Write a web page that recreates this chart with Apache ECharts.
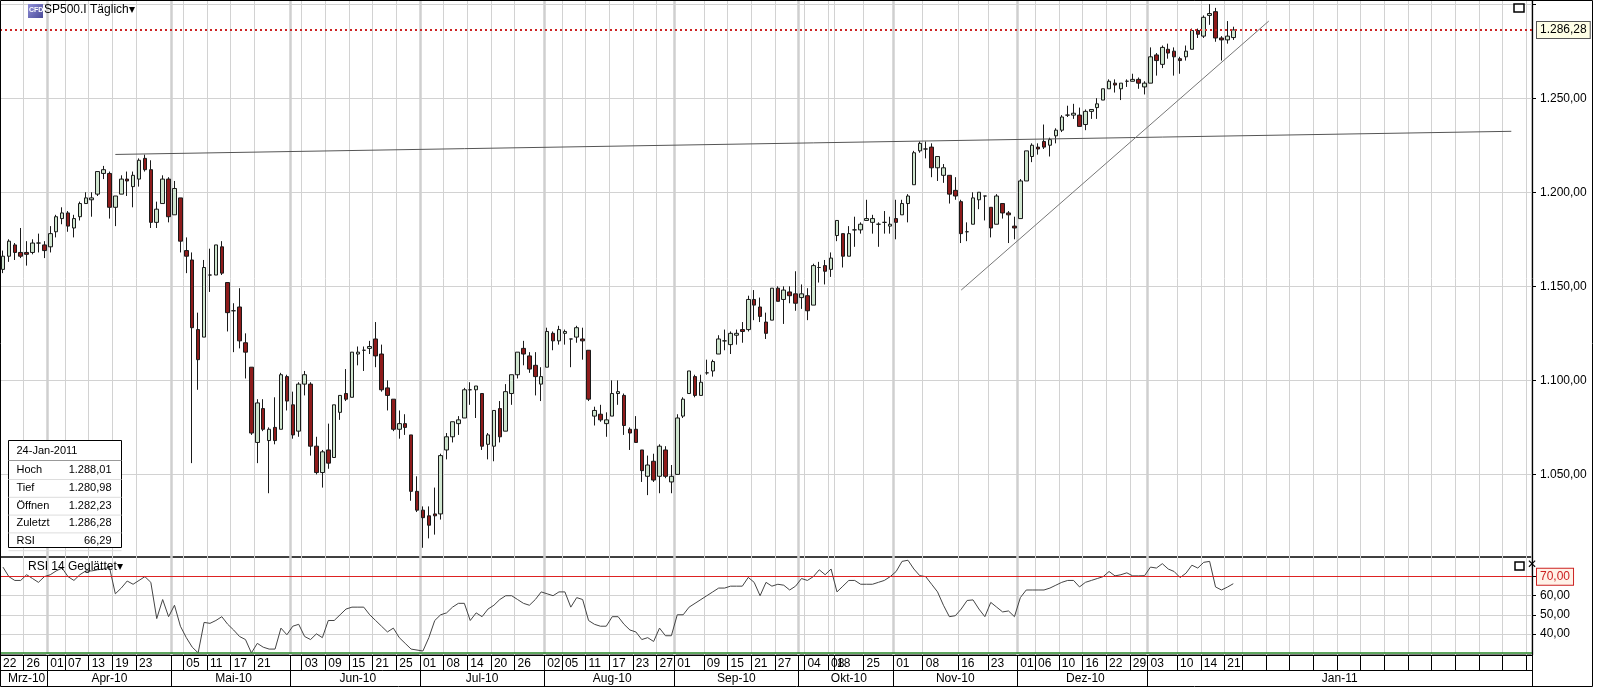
<!DOCTYPE html>
<html><head><meta charset="utf-8">
<script src="https://cdn.jsdelivr.net/npm/echarts@6/dist/echarts.min.js"></script>
<style>html,body{margin:0;padding:0;background:#fff;overflow:hidden}#c{width:1598px;height:687px}</style>
</head><body><div id="c"></div>
<script>
const title = 'SP500.I Täglich';
const rsiTitle = 'RSI 14 Geglättet';
const dates = [
'2010-03-22','2010-03-23','2010-03-24','2010-03-25','2010-03-26','2010-03-29','2010-03-30','2010-03-31',
'2010-04-01','2010-04-05','2010-04-06','2010-04-07','2010-04-08','2010-04-09','2010-04-12','2010-04-13','2010-04-14','2010-04-15','2010-04-16','2010-04-19','2010-04-20','2010-04-21','2010-04-22','2010-04-23','2010-04-26','2010-04-27','2010-04-28','2010-04-29','2010-04-30',
'2010-05-03','2010-05-04','2010-05-05','2010-05-06','2010-05-07','2010-05-10','2010-05-11','2010-05-12','2010-05-13','2010-05-14','2010-05-17','2010-05-18','2010-05-19','2010-05-20','2010-05-21','2010-05-24','2010-05-25','2010-05-26','2010-05-27','2010-05-28',
'2010-06-01','2010-06-02','2010-06-03','2010-06-04','2010-06-07','2010-06-08','2010-06-09','2010-06-10','2010-06-11','2010-06-14','2010-06-15','2010-06-16','2010-06-17','2010-06-18','2010-06-21','2010-06-22','2010-06-23','2010-06-24','2010-06-25','2010-06-28','2010-06-29','2010-06-30',
'2010-07-01','2010-07-02','2010-07-06','2010-07-07','2010-07-08','2010-07-09','2010-07-12','2010-07-13','2010-07-14','2010-07-15','2010-07-16','2010-07-19','2010-07-20','2010-07-21','2010-07-22','2010-07-23','2010-07-26','2010-07-27','2010-07-28','2010-07-29','2010-07-30',
'2010-08-02','2010-08-03','2010-08-04','2010-08-05','2010-08-06','2010-08-09','2010-08-10','2010-08-11','2010-08-12','2010-08-13','2010-08-16','2010-08-17','2010-08-18','2010-08-19','2010-08-20','2010-08-23','2010-08-24','2010-08-25','2010-08-26','2010-08-27','2010-08-30','2010-08-31',
'2010-09-01','2010-09-02','2010-09-03','2010-09-07','2010-09-08','2010-09-09','2010-09-10','2010-09-13','2010-09-14','2010-09-15','2010-09-16','2010-09-17','2010-09-20','2010-09-21','2010-09-22','2010-09-23','2010-09-24','2010-09-27','2010-09-28','2010-09-29','2010-09-30',
'2010-10-01','2010-10-04','2010-10-05','2010-10-06','2010-10-07','2010-10-08','2010-10-18','2010-10-19','2010-10-20','2010-10-21','2010-10-22','2010-10-25','2010-10-26','2010-10-27','2010-10-28','2010-10-29',
'2010-11-01','2010-11-02','2010-11-03','2010-11-04','2010-11-05','2010-11-08','2010-11-09','2010-11-10','2010-11-11','2010-11-12','2010-11-15','2010-11-16','2010-11-17','2010-11-18','2010-11-19','2010-11-22','2010-11-23','2010-11-24','2010-11-26','2010-11-29','2010-11-30',
'2010-12-01','2010-12-02','2010-12-03','2010-12-06','2010-12-07','2010-12-08','2010-12-09','2010-12-10','2010-12-13','2010-12-14','2010-12-15','2010-12-16','2010-12-17','2010-12-20','2010-12-21','2010-12-22','2010-12-23','2010-12-27','2010-12-28','2010-12-29','2010-12-30','2010-12-31',
'2011-01-03','2011-01-04','2011-01-05','2011-01-06','2011-01-07','2011-01-10','2011-01-11','2011-01-12','2011-01-13','2011-01-14','2011-01-18','2011-01-19','2011-01-20','2011-01-21','2011-01-24'];
const opens = [1159,1166,1172,1168,1168,1168,1173,1172,
1171,1179,1186,1189,1181,1187,1194,1196,1199,1210,1210,1192,1199,1207,1203,1207,1218,1212,1184,1194,1207,
1188,1197,1169,1164,1127,1123,1156,1156,1171,1152,1137,1139,1120,1107,1067,1085,1068,1075,1074,1102,
1087,1073,1098,1098,1065,1051,1063,1059,1083,1093,1091,1114,1116,1117,1122,1114,1096,1090,1074,1077,1071,1041,
1031,1028,1029,1029,1063,1070,1077,1080,1095,1095,1093,1066,1065,1085,1073,1093,1103,1117,1113,1108,1098,
1107,1125,1121,1125,1122,1123,1122,1116,1081,1082,1077,1081,1093,1092,1074,1074,1063,1049,1057,1049,1063,1046,
1050,1081,1093,1102,1092,1104,1105,1114,1121,1119,1124,1127,1127,1143,1139,1131,1132,1149,1143,1147,1146,
1144,1145,1140,1160,1161,1159,1177,1178,1166,1180,1180,1185,1184,1183,1184,1182,
1186,1188,1194,1204,1222,1223,1224,1213,1209,1209,1201,1195,1179,1183,1196,1198,1192,1183,1194,1189,1182,
1186,1206,1219,1224,1227,1225,1230,1233,1241,1241,1241,1236,1243,1245,1249,1255,1258,1255,1259,1259,1260,1256,
1258,1273,1268,1276,1275,1271,1272,1276,1286,1283,1294,1296,1282,1281,1282.23];
const highs = [1169,1175,1173,1181,1174,1175,1178,1174,
1182,1188,1192,1190,1188,1195,1200,1200,1211,1214,1211,1198,1209,1211,1211,1218,1220,1217,1195,1209,1208,
1206,1197,1176,1168,1136,1164,1170,1172,1174,1152,1141,1149,1125,1107,1090,1090,1075,1091,1104,1103,
1094,1099,1105,1099,1070,1063,1077,1087,1092,1106,1115,1118,1118,1121,1131,1119,1100,1090,1084,1082,1071,1049,
1033,1033,1043,1061,1072,1078,1081,1096,1099,1097,1093,1072,1084,1089,1098,1103,1115,1121,1115,1115,1107,
1128,1126,1129,1127,1122,1129,1128,1116,1086,1087,1083,1100,1100,1093,1075,1081,1063,1060,1061,1066,1065,1055,
1082,1091,1105,1103,1103,1111,1111,1124,1127,1126,1127,1131,1145,1148,1144,1136,1149,1150,1150,1150,1158,
1151,1149,1162,1163,1164,1168,1185,1178,1182,1187,1184,1196,1188,1184,1190,1187,
1196,1196,1199,1222,1227,1227,1226,1219,1215,1209,1208,1196,1184,1200,1200,1198,1192,1199,1194,1190,1187,
1207,1222,1226,1226,1236,1229,1234,1241,1246,1247,1245,1244,1244,1250,1255,1260,1260,1258,1260,1263,1261,1259,
1277,1274,1278,1279,1277,1272,1278,1287,1287,1294,1300,1298,1283,1291,1288.01];
const lows = [1157,1163,1164,1165,1161,1167,1168,1165,
1168,1176,1183,1179,1176,1185,1194,1187,1198,1207,1186,1182,1199,1198,1192,1203,1211,1181,1181,1194,1184,
1188,1168,1157,1056,1095,1123,1147,1156,1156,1126,1115,1117,1101,1071,1056,1073,1040,1066,1074,1084,
1069,1070,1092,1060,1050,1043,1053,1059,1079,1089,1091,1108,1105,1114,1107,1094,1084,1073,1069,1071,1036,1030,
1011,1016,1018,1026,1058,1067,1071,1080,1087,1080,1063,1058,1057,1067,1073,1087,1101,1108,1104,1092,1089,
1107,1116,1119,1119,1107,1120,1111,1089,1076,1078,1070,1081,1087,1071,1063,1067,1046,1039,1046,1040,1048,1040,
1050,1080,1093,1091,1092,1103,1102,1114,1116,1114,1119,1120,1126,1132,1131,1122,1132,1142,1130,1141,1137,
1138,1132,1140,1152,1151,1155,1174,1160,1166,1171,1178,1185,1178,1171,1178,1178,
1175,1188,1184,1204,1221,1218,1208,1206,1205,1194,1196,1173,1174,1183,1191,1185,1176,1183,1186,1173,1175,
1186,1206,1216,1220,1223,1219,1226,1232,1240,1239,1235,1233,1239,1239,1249,1255,1253,1249,1256,1259,1255,1252,
1258,1262,1266,1271,1262,1263,1270,1276,1282,1282,1289,1280,1270,1279,1280.98];
const closes = [1166,1174,1168,1166,1167,1173,1173,1169,
1178,1187,1189,1182,1186,1194,1197,1197,1211,1212,1192,1198,1207,1206,1209,1217,1212,1184,1191,1207,1187,
1202,1174,1166,1128,1111,1160,1156,1172,1157,1136,1137,1121,1115,1072,1088,1074,1074,1068,1103,1089,
1071,1098,1103,1065,1051,1062,1056,1087,1092,1090,1115,1115,1116,1118,1113,1095,1092,1074,1077,1075,1041,1031,
1027,1023,1028,1060,1070,1078,1079,1095,1095,1097,1065,1071,1084,1070,1094,1103,1115,1114,1106,1102,1102,
1126,1121,1127,1126,1122,1128,1121,1090,1084,1079,1079,1093,1094,1076,1072,1067,1052,1055,1047,1065,1049,1049,
1080,1090,1105,1092,1099,1104,1110,1122,1121,1125,1125,1126,1143,1140,1134,1125,1149,1142,1148,1145,1141,
1146,1137,1161,1160,1158,1165,1185,1166,1178,1180,1183,1186,1186,1183,1184,1183,
1184,1194,1198,1221,1226,1223,1213,1219,1213,1199,1198,1178,1179,1197,1200,1198,1181,1198,1189,1188,1181,
1206,1222,1225,1223,1224,1228,1233,1240,1241,1242,1235,1243,1244,1247,1255,1259,1257,1258,1259,1260,1258,1258,
1272,1270,1277,1274,1272,1270,1275,1286,1284,1293,1295,1282,1281,1283,1286.28];
const rsi = [75,70,68,68,71,69,67,70,
71,73,74.5,70,68,71,73,73,73.6,74,75,61,64,67.7,66,68,70,67,48,58,49,
55,44,38,33,30,46,45.5,47,49,45,42,38.6,37,30,35,33,32,32,43,39.5,
44,45,38.6,37,40,38,47,47,50,53,54,54,54,50,47,44,41,43,38,35,32,31.5,
31,38,47,50,51,54,56,56,47,51,49,53,55,58,60,60,58,56,55,58,62,
61,60,62,62,54,59,58,47,45,44,44,49,49,45,42,41,37,38,36,43,39,39,
50,50,54,56,58,60,62,64,64,65,65,65,69.6,67,60,67,65,66,65.5,63,65,
69,68,70,73.6,71,74,62,65,68,68,66,66,66,67,68,70,
72.7,78,78.6,74,70.5,70,66,62,55,49,49.5,53,57.5,57.8,53,49,56.5,54,51.5,52,49,
59,63,63,63,63,64,65.5,67,68,68,64.6,67,68,69,70,72.7,70.4,71,72,70.4,70.4,70.5,
75,74.5,76.8,74,72.7,69.5,71.8,76,74.5,77.5,78,64.6,63,64.5,66.29];
const labelDays = ['2010-03-22','2010-03-26','2010-04-01','2010-04-07','2010-04-13','2010-04-19','2010-04-23',
'2010-05-05','2010-05-11','2010-05-17','2010-05-21','2010-06-03','2010-06-09','2010-06-15','2010-06-21','2010-06-25',
'2010-07-01','2010-07-08','2010-07-14','2010-07-20','2010-07-26','2010-08-02','2010-08-05','2010-08-11','2010-08-17','2010-08-23','2010-08-27',
'2010-09-01','2010-09-09','2010-09-15','2010-09-21','2010-09-27','2010-10-04','2010-10-08','2010-10-18','2010-10-25',
'2010-11-01','2010-11-08','2010-11-16','2010-11-23','2010-12-01','2010-12-06','2010-12-10','2010-12-16','2010-12-22','2010-12-29',
'2011-01-03','2011-01-10','2011-01-14','2011-01-21'];
const monthNames = ['Jan','Feb','Mrz','Apr','Mai','Jun','Jul','Aug','Sep','Okt','Nov','Dez'];
const futureSlots = 50;
const rsiUpper = 70, rsiLower = 30;
const resistLine = [[19, 1220.1], [255, 1232.4]];
const supportLine = [[162, 1148], [214, 1291]];

const cats = dates.concat(Array.from({length: futureSlots}, (_, i) => 'F' + (i + 1)));
const N = dates.length;
const monthStarts = [];
dates.forEach((d, i) => { if (i === 0 || d.slice(0, 7) !== dates[i - 1].slice(0, 7)) monthStarts.push(i); });
const monthStartSet = new Set(monthStarts.filter(i => i > 0));
const monthMid = {};
monthStarts.forEach((s, k) => {
  const e = k + 1 < monthStarts.length ? monthStarts[k + 1] : cats.length;
  const d = dates[s];
  monthMid[Math.floor((s + e) / 2)] = monthNames[+d.slice(5, 7) - 1] + '-' + d.slice(2, 4);
});
const labelSet = new Set(labelDays.map(d => dates.indexOf(d)));
const tickSet = new Set([...labelSet, ...monthStartSet]);
for (let k = N + 1; k < cats.length; k += 4) tickSet.add(k);
const fmt = v => { const s = v.toFixed(2).split('.'); s[0] = s[0].replace(/\B(?=(\d{3})+(?!\d))/g, '.'); return s.join(','); };
const candles = dates.map((d, i) => [opens[i], closes[i], lows[i], highs[i]]);
const last = N - 1;
const FONT = 'Liberation Sans';
const tickFn = i => tickSet.has(i);
const monthFn = i => monthStartSet.has(i);

const gridLine = {color: '#d2d2d2', width: 1};
const monthLine = {color: '#cfcfcf', width: 2.5};
const chart = echarts.init(document.getElementById('c'));
chart.setOption({
  animation: false,
  textStyle: {fontFamily: FONT},
  grid: [
    {left: 0, right: 66, top: 0, height: 557, show: true, borderColor: '#000', borderWidth: 1, outerBoundsMode: 'none'},
    {left: 0, right: 66, top: 557, height: 98, show: true, borderColor: '#000', borderWidth: 1, outerBoundsMode: 'none'}
  ],
  xAxis: [
    {type: 'category', gridIndex: 0, data: cats, axisLine: {show: false}, axisTick: {show: false}, axisLabel: {show: false},
     splitLine: {show: true, interval: tickFn, lineStyle: gridLine}},
    {type: 'category', gridIndex: 0, data: cats, axisLine: {show: false}, axisTick: {show: false}, axisLabel: {show: false},
     splitLine: {show: true, interval: monthFn, lineStyle: monthLine}},
    {type: 'category', gridIndex: 1, data: cats, position: 'bottom', axisLine: {lineStyle: {color: '#000'}},
     axisTick: {show: true, interval: tickFn, length: 15, lineStyle: {color: '#000'}},
     axisLabel: {interval: i => labelSet.has(i), formatter: v => v.slice(8, 10), align: 'left', margin: 3, color: '#000', fontSize: 12, fontFamily: FONT, hideOverlap: false},
     splitLine: {show: true, interval: tickFn, lineStyle: gridLine}},
    {type: 'category', gridIndex: 1, data: cats, position: 'bottom', offset: 15, axisLine: {lineStyle: {color: '#000'}},
     axisTick: {show: true, interval: monthFn, length: 16, lineStyle: {color: '#000'}},
     axisLabel: {interval: i => monthMid[i] !== undefined, formatter: (v, i) => monthMid[i] || '', margin: 3, color: '#000', fontSize: 12, fontFamily: FONT},
     splitLine: {show: true, interval: monthFn, lineStyle: monthLine}}
  ],
  yAxis: [
    {type: 'value', gridIndex: 0, position: 'right', min: 1006.1, max: 1302.2, axisLine: {show: true, lineStyle: {color: '#000'}},
     axisTick: {show: true, customValues: [1050, 1100, 1150, 1200, 1250, 1300], length: 4, lineStyle: {color: '#000'}},
     axisLabel: {customValues: [1050, 1100, 1150, 1200, 1250], formatter: v => fmt(v), color: '#000', fontSize: 12, margin: 8},
     splitLine: {show: true, lineStyle: gridLine}},
    {type: 'value', gridIndex: 1, position: 'right', min: 28.9, max: 80.3, axisLine: {show: true, lineStyle: {color: '#000'}},
     axisTick: {show: true, customValues: [40, 50, 60, 70], length: 4, lineStyle: {color: '#000'}},
     axisLabel: {customValues: [40, 50, 60], formatter: v => fmt(v), color: '#000', fontSize: 12, margin: 8},
     splitLine: {show: true, lineStyle: gridLine}}
  ],
  series: [
    {type: 'candlestick', xAxisIndex: 0, yAxisIndex: 0, data: candles, barWidth: 4,
     itemStyle: {color: '#cfe5cf', color0: '#8e1b1b', borderColor: '#1a1a1a', borderColor0: '#1a1a1a', borderWidth: 1},
     markLine: {silent: true, symbol: 'none', animation: false,
       data: [
         {yAxis: closes[last], lineStyle: {color: '#cc2222', type: [2, 3], width: 2},
          label: {show: true, position: 'end', distance: 5, formatter: () => fmt(closes[last]), color: '#000', fontSize: 12,
                  backgroundColor: '#ffffe6', borderColor: '#555', borderWidth: 1, padding: [2, 3]}},
         [{coord: resistLine[0], lineStyle: {color: '#555', type: 'solid', width: 1}, label: {show: false}}, {coord: resistLine[1]}],
         [{coord: supportLine[0], lineStyle: {color: '#777', type: 'solid', width: 1}, label: {show: false}}, {coord: supportLine[1]}]
       ]}},
    {type: 'line', xAxisIndex: 2, yAxisIndex: 1, data: rsi, showSymbol: false, lineStyle: {color: '#444', width: 1},
     markLine: {silent: true, symbol: 'none', animation: false,
       data: [
         {yAxis: rsiUpper, lineStyle: {color: '#dd2222', type: 'solid', width: 1},
          label: {show: true, position: 'end', distance: 5, formatter: () => fmt(rsiUpper), color: '#cc2222', fontSize: 12,
                  backgroundColor: '#fff2e8', borderColor: '#cc2222', borderWidth: 1, padding: [2, 3]}},
         {yAxis: rsiLower, lineStyle: {color: '#2a8a2a', type: 'solid', width: 1.5}, label: {show: false}}
       ]}}
  ],
  graphic: [
    {type: 'rect', z: 100, shape: {x: 0.5, y: 0.5, width: 1592, height: 686}, style: {fill: 'none', stroke: '#000', lineWidth: 1}, silent: true},
    {type: 'rect', z: 100, shape: {x: 28, y: 4, width: 15, height: 14}, style: {fill: new echarts.graphic.LinearGradient(0, 0, 1, 1, [{offset: 0, color: '#9090d8'}, {offset: 1, color: '#4a4a98'}])}},
    {type: 'text', z: 101, x: 29, y: 7, style: {text: 'CFD', fill: '#fff', font: 'bold 7px ' + FONT}},
    {type: 'text', z: 100, x: 44, y: 4, style: {text: title + '▾', fill: '#000', font: '12px ' + FONT}},
    {type: 'rect', z: 100, shape: {x: 1514, y: 4, width: 10, height: 8}, style: {fill: '#fff', stroke: '#000', lineWidth: 1.5}},
    {type: 'text', z: 100, x: 28, y: 561, style: {text: rsiTitle + '▾', fill: '#000', font: '12px ' + FONT}},
    {type: 'rect', z: 100, shape: {x: 1515, y: 562, width: 9, height: 8}, style: {fill: '#fff', stroke: '#000', lineWidth: 1.5}},
    {type: 'text', z: 100, x: 1527, y: 559, style: {text: '✕', fill: '#000', font: 'bold 12px DejaVu Sans'}},
    {type: 'group', z: 100, left: 6, top: 440, children: [
      {type: 'rect', z: 100, shape: {x: 0, y: 0, width: 113, height: 107}, style: {fill: '#fff', stroke: '#000', lineWidth: 1}},
      {type: 'text', z: 101, x: 8, y: 5, style: {text: (() => { const d = dates[last]; return d.slice(8, 10) + '-' + ['Jan','Feb','Mar','Apr','May','Jun','Jul','Aug','Sep','Oct','Nov','Dec'][+d.slice(5, 7) - 1] + '-' + d.slice(0, 4); })(), fill: '#000', font: '11px ' + FONT}},
      {type: 'line', z: 101, shape: {x1: 0, y1: 20, x2: 113, y2: 20}, style: {stroke: '#999'}},
      ...[['Hoch', highs[last]], ['Tief', lows[last]], ['Öffnen', opens[last]], ['Zuletzt', closes[last]], ['RSI', rsi[last]]].flatMap((r, k) => [
        {type: 'text', z: 101, x: 8, y: 24 + k * 17.8, style: {text: r[0], fill: '#000', font: '11px ' + FONT}},
        {type: 'text', z: 101, x: 103, y: 24 + k * 17.8, style: {text: fmt(r[1]), fill: '#000', font: '11px ' + FONT, align: 'right'}},
        {type: 'line', z: 101, shape: {x1: 0, y1: 39 + k * 17.8, x2: 113, y2: 39 + k * 17.8}, style: {stroke: '#ddd'}}
      ])
    ]}
  ]
});
</script></body></html>
